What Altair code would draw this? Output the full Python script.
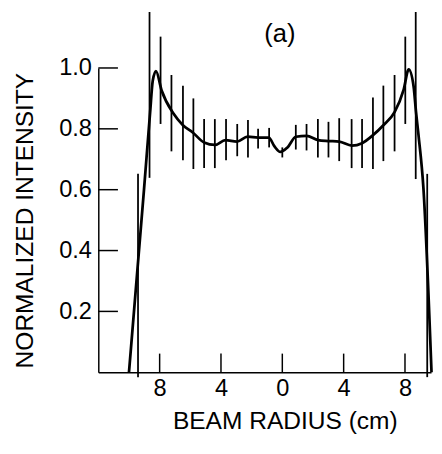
import altair as alt
import pandas as pd

# smooth profile curve (radius in cm, normalized intensity)
curve_x = [-10.0, -9.02, -8.62, -8.45, -8.24, -7.87, -7.1, -6.48, -5.84, -5.1, -4.4, -3.71,
           -2.96, -2.26, -1.58, -0.88, -0.51, -0.13, 0.34, 0.88, 1.58, 2.33, 3.0, 3.71,
           4.54, 5.2, 5.93, 6.59, 7.32, 7.92, 8.24, 8.56, 8.72, 8.88, 9.2, 9.73]
curve_y = [0.0, 0.60, 0.855, 0.958, 0.99, 0.926, 0.85, 0.812, 0.788, 0.755, 0.747, 0.763,
           0.758, 0.774, 0.771, 0.771, 0.742, 0.724, 0.739, 0.774, 0.777, 0.763, 0.76, 0.758,
           0.745, 0.753, 0.78, 0.812, 0.855, 0.93, 0.995, 0.94, 0.855, 0.78, 0.607, 0.0]

# error bars
err_x = [-9.41, -8.66, -7.94, -7.23, -6.48, -5.80, -5.10, -4.40, -3.67, -2.94, -2.24, -1.58,
         -0.86, 0.0, 0.88, 1.58, 2.32, 3.01, 3.71, 4.52, 5.20, 5.91, 6.59, 7.32, 8.02, 8.70, 9.45]
err_lo = [-0.016, 0.639, 0.816, 0.726, 0.697, 0.668, 0.671, 0.671, 0.697, 0.71, 0.706, 0.735,
          0.739, 0.706, 0.732, 0.729, 0.706, 0.706, 0.694, 0.671, 0.671, 0.668, 0.694, 0.726,
          0.816, 0.635, -0.016]
err_hi = [0.652, 1.184, 1.103, 0.977, 0.942, 0.9, 0.832, 0.832, 0.832, 0.816, 0.829, 0.8,
          0.803, 0.739, 0.813, 0.816, 0.832, 0.823, 0.835, 0.832, 0.832, 0.903, 0.942, 0.977,
          1.103, 1.184, 0.652]

x_ticks = [-8, -4, 0, 4, 8]
y_ticks = [0.2, 0.4, 0.6, 0.8, 1.0]
panel_label = ["(a)"]

FONT = "Liberation Sans"

curve_df = pd.DataFrame({"r": curve_x, "i": curve_y})
err_df = pd.DataFrame({"r": err_x, "lo": err_lo, "hi": err_hi})
xt_df = pd.DataFrame({"r": x_ticks})
yt_df = pd.DataFrame({"v": y_ticks})
lab_df = pd.DataFrame({"t": panel_label})

xscale = alt.Scale(domain=[-12, 9.7], nice=False, zero=False)
yscale = alt.Scale(domain=[0, 1.0], nice=False)

xaxis = alt.Axis(values=x_ticks, labelExpr="abs(datum.value)", ticks=False, grid=False,
                 domainColor="black", domainWidth=1.5, labelFont=FONT, labelFontSize=24,
                 labelColor="black", labelPadding=5, title="BEAM RADIUS (cm)",
                 titleFont=FONT, titleFontSize=25, titleFontWeight="normal",
                 titleColor="black", titlePadding=8, titleX=190)
yaxis = alt.Axis(values=y_ticks, format=".1f", ticks=False, grid=False,
                 domainColor="black", domainWidth=1.5, labelFont=FONT, labelFontSize=24,
                 labelColor="black", labelPadding=7, title="NORMALIZED INTENSITY",
                 titleFont=FONT, titleFontSize=25, titleFontWeight="normal",
                 titleColor="black", titlePadding=22)

base_line = alt.Chart(curve_df).mark_line(color="black", strokeWidth=2.8,
                                          interpolate="monotone").encode(
    x=alt.X("r:Q", scale=xscale, axis=xaxis),
    y=alt.Y("i:Q", scale=yscale, axis=yaxis),
)

bars = alt.Chart(err_df).mark_rule(color="black", strokeWidth=1.8).encode(
    x=alt.X("r:Q", scale=xscale),
    y=alt.Y("lo:Q", scale=yscale),
    y2="hi:Q",
)

xt = alt.Chart(xt_df).mark_rule(color="black", strokeWidth=1.5).encode(
    x=alt.X("r:Q", scale=xscale),
    y=alt.value(291),
    y2=alt.value(310),
)

yt = alt.Chart(yt_df).mark_rule(color="black", strokeWidth=1.5).encode(
    y=alt.Y("v:Q", scale=yscale),
    x=alt.value(0),
    x2=alt.value(20),
)

label = alt.Chart(lab_df).mark_text(font=FONT, fontSize=26, color="black",
                                    align="center", baseline="middle").encode(
    text="t:N",
    x=alt.value(185),
    y=alt.value(-34),
)

chart = alt.layer(base_line, bars, xt, yt, label).properties(
    width=339, height=310,
    autosize=alt.AutoSizeParams(type="none"),
    padding={"left": 92, "top": 57, "right": 3, "bottom": 70},
).configure_view(stroke=None)

chart.save("out.html", embed_options={"renderer": "svg", "actions": False})
